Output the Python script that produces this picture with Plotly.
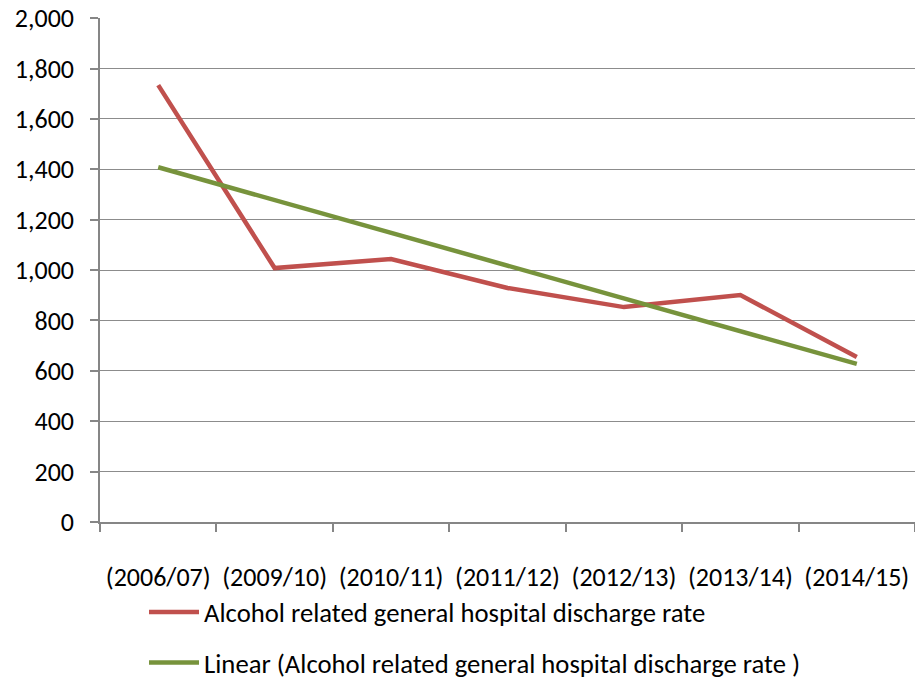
import numpy as np
import plotly.graph_objects as go

# Kategorien (Jahre) und Werte
jahre = ['(2006/07)', '(2009/10)', '(2010/11)', '(2011/12)', '(2012/13)', '(2013/14)', '(2014/15)']
entlassrate = [1734, 1008, 1044, 929, 853, 901, 655]

# Linearer Trend wie in Excel (Kleinste Quadrate über Index 1..n)
idx = np.arange(1, len(jahre) + 1)
steigung, achsenabschnitt = np.polyfit(idx, entlassrate, 1)
trend = steigung * idx + achsenabschnitt

schrift = "Carlito, Calibri, Lato, sans-serif"

fig = go.Figure()

fig.add_trace(go.Scatter(
    x=jahre, y=entlassrate,
    mode='lines',
    name='Alcohol related general hospital discharge rate',
    line=dict(color='#C0504D', width=4.5),
    legend='legend'
))

fig.add_trace(go.Scatter(
    x=jahre, y=trend,
    mode='lines',
    name='Linear (Alcohol related general hospital discharge rate )',
    line=dict(color='#77933C', width=4.5),
    legend='legend2'
))

fig.update_layout(
    width=915, height=678,
    margin=dict(l=100, r=0, t=18, b=156, autoexpand=False),
    plot_bgcolor='white',
    paper_bgcolor='white',
    font=dict(family=schrift, size=26, color='black'),
    legend=dict(x=0.054, y=-0.179, xanchor='left', yanchor='middle',
                bgcolor='rgba(0,0,0,0)', font=dict(size=26.7), itemwidth=50),
    legend2=dict(x=0.054, y=-0.279, xanchor='left', yanchor='middle',
                 bgcolor='rgba(0,0,0,0)', font=dict(size=26.7), itemwidth=50),
    showlegend=True
)

fig.update_xaxes(
    type='category',
    range=[-0.5, len(jahre) - 0.5],
    tickson='boundaries',
    ticks='outside', ticklen=8, tickcolor='#868686', tickwidth=1.5,
    showline=True, linecolor='#868686', linewidth=1.5,
    showgrid=False,
    ticklabelstandoff=31,
    tickfont=dict(size=26)
)

fig.update_yaxes(
    range=[0, 2000.5], tickmode='array',
    tickvals=list(range(0, 2001, 200)),
    tickformat=',d',
    ticks='outside', ticklen=8, tickcolor='#868686', tickwidth=1.5,
    showline=True, linecolor='#868686', linewidth=1.5,
    showgrid=True, gridcolor='#8C8C8C', gridwidth=1.2,
    zeroline=False,
    ticklabelstandoff=11,
    tickfont=dict(size=26)
)

# Standard-Seitenrand des Browsers entfernen, damit die Figur bei (0,0) beginnt
fig.write_html("out.html", config={'displayModeBar': False},
               post_script="document.body.style.margin='0px';")
